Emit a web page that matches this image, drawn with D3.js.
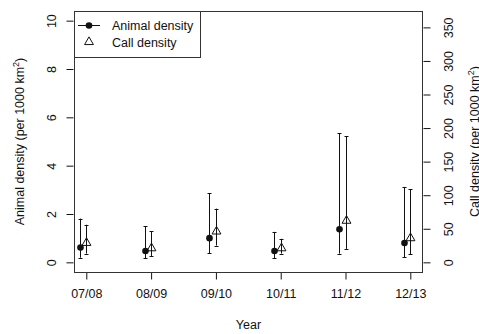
<!DOCTYPE html>
<html>
<head>
<meta charset="utf-8">
<script src="https://cdn.jsdelivr.net/npm/d3@7"></script>
<style>
body { margin: 0; background: #fff; }
svg { font-family: "Liberation Sans", Arial, sans-serif; }
</style>
</head>
<body>
<svg id="chart" width="479" height="334"></svg>
<script>
// values
var years = ["07/08", "08/09", "09/10", "10/11", "11/12", "12/13"];
var animal = [0.61, 0.47, 1.0, 0.47, 1.37, 0.80];
var animalLo = [0.19, 0.17, 0.37, 0.18, 0.36, 0.21];
var animalHi = [1.81, 1.50, 2.87, 1.26, 5.35, 3.12];
var calls = [29, 21, 46, 21, 62, 36];
var callsLo = [13, 9.5, 25, 13, 20, 12];
var callsHi = [56, 46, 80, 35, 188, 109];
var leftTicks = [0, 2, 4, 6, 8, 10];
var rightTicks = [0, 50, 100, 150, 200, 250, 300, 350];

var pLeft = 74, pRight = 423, pTop = 11, pBottom = 272;
var svg = d3.select("#chart");
var ink = "#111";
var fs = 12.5;

var x = d3.scaleLinear().domain([0.81, 6.196]).range([pLeft, pRight]);
var yL = d3.scaleLinear().domain([-0.4, 10.4]).range([pBottom, pTop]);
var yR = d3.scaleLinear().domain([-14.4, 374.4]).range([pBottom, pTop]);

// bottom axis
var xAxis = d3.axisBottom(x)
	.tickValues(d3.range(1, years.length + 1))
	.tickFormat(function(d){ return years[d - 1]; })
	.tickSize(7).tickPadding(10).tickSizeOuter(0);
var gx = svg.append("g")
	.attr("transform", "translate(0," + (pBottom + 0.5) + ")")
	.call(xAxis);
gx.select(".domain").remove();

// left axis
var gl = svg.append("g")
	.attr("transform", "translate(" + (pLeft - 0.5) + ",0)")
	.call(d3.axisLeft(yL).tickValues(leftTicks).tickSize(7).tickSizeOuter(0).tickFormat(d3.format("d")));
gl.select(".domain").remove();
gl.selectAll(".tick text")
	.attr("transform", "rotate(-90)")
	.attr("x", 0).attr("y", -18).attr("dy", 0)
	.attr("text-anchor", "middle");

// right axis
var gr = svg.append("g")
	.attr("transform", "translate(" + (pRight + 0.5) + ",0)")
	.call(d3.axisRight(yR).tickValues(rightTicks).tickSize(7).tickSizeOuter(0).tickFormat(d3.format("d")));
gr.select(".domain").remove();
gr.selectAll(".tick text")
	.attr("transform", "rotate(-90)")
	.attr("x", 0).attr("y", 29).attr("dy", 0)
	.attr("text-anchor", "middle");

svg.selectAll(".tick line").attr("stroke", ink);
svg.selectAll(".tick text").attr("font-size", fs).attr("fill", ink)
	.attr("font-family", "Liberation Sans, Arial, sans-serif");

// plot box
svg.append("rect")
	.attr("x", pLeft + 0.5).attr("y", pTop + 0.5)
	.attr("width", pRight - pLeft - 1).attr("height", pBottom - pTop)
	.attr("fill", "none").attr("stroke", "#333");

// axis titles
svg.append("text")
	.attr("x", (pLeft + pRight) / 2).attr("y", 329)
	.attr("text-anchor", "middle").attr("font-size", fs).attr("fill", ink)
	.text("Year");

var yt = svg.append("text")
	.attr("transform", "translate(24," + ((pTop + pBottom) / 2) + ") rotate(-90)")
	.attr("text-anchor", "middle").attr("font-size", fs).attr("fill", ink);
yt.append("tspan").text("Animal density (per 1000 km");
yt.append("tspan").attr("dy", -5).attr("font-size", 9).text("2");
yt.append("tspan").attr("dy", 5).text(")");

var yt2 = svg.append("text")
	.attr("transform", "translate(479," + ((pTop + pBottom) / 2) + ") rotate(-90)")
	.attr("text-anchor", "middle").attr("font-size", fs).attr("fill", ink);
yt2.append("tspan").text("Call density (per 1000 km");
yt2.append("tspan").attr("dy", -5).attr("font-size", 9).text("2");
yt2.append("tspan").attr("dy", 5).text(")");

// error bars
function errorBars(cls, xs, lo, hi, yScale){
	var g = svg.append("g").attr("class", cls);
	var idx = d3.range(xs.length);
	g.selectAll("line.bar").data(idx).enter().append("line")
		.attr("x1", function(i){ return Math.round(x(xs[i])) + 0.5; })
		.attr("x2", function(i){ return Math.round(x(xs[i])) + 0.5; })
		.attr("y1", function(i){ return yScale(lo[i]); })
		.attr("y2", function(i){ return yScale(hi[i]); })
		.attr("stroke", ink);
	[lo, hi].forEach(function(arr){
		g.selectAll(null).data(idx).enter().append("line")
			.attr("x1", function(i){ return Math.round(x(xs[i])) - 1.5; })
			.attr("x2", function(i){ return Math.round(x(xs[i])) + 2.5; })
			.attr("y1", function(i){ return Math.round(yScale(arr[i])) + 0.5; })
			.attr("y2", function(i){ return Math.round(yScale(arr[i])) + 0.5; })
			.attr("stroke", ink);
	});
}

var animalX = years.map(function(d, i){ return i + 1 - 0.1; });
var callX = years.map(function(d, i){ return i + 1; });

errorBars("animal-err", animalX, animalLo, animalHi, yL);
errorBars("call-err", callX, callsLo, callsHi, yR);

var tri = d3.symbol().type(d3.symbolTriangle).size(34);

svg.selectAll("circle.animal").data(animal).enter().append("circle")
	.attr("class", "animal")
	.attr("cx", function(d, i){ return Math.round(x(animalX[i])) + 0.5; })
	.attr("cy", function(d){ return yL(d); })
	.attr("r", 3.3).attr("fill", ink);

svg.selectAll("path.call").data(calls).enter().append("path")
	.attr("class", "call")
	.attr("d", tri)
	.attr("transform", function(d, i){ return "translate(" + (Math.round(x(callX[i])) + 0.5) + "," + yR(d) + ")"; })
	.attr("fill", "none").attr("stroke", ink);

// legend
var lg = svg.append("g");
lg.append("rect")
	.attr("x", pLeft + 0.5).attr("y", pTop + 0.5)
	.attr("width", 126).attr("height", 46)
	.attr("fill", "#fff").attr("stroke", "#333");
lg.append("line")
	.attr("x1", 78).attr("x2", 100).attr("y1", 25.5).attr("y2", 25.5)
	.attr("stroke", ink);
lg.append("circle").attr("cx", 89).attr("cy", 25.5).attr("r", 3.3).attr("fill", ink);
lg.append("path").attr("d", tri).attr("transform", "translate(89,42)")
	.attr("fill", "none").attr("stroke", ink);
lg.append("text").attr("x", 112).attr("y", 30).attr("font-size", fs).attr("fill", ink).text("Animal density");
lg.append("text").attr("x", 112).attr("y", 46.5).attr("font-size", fs).attr("fill", ink).text("Call density");
</script>
</body>
</html>
